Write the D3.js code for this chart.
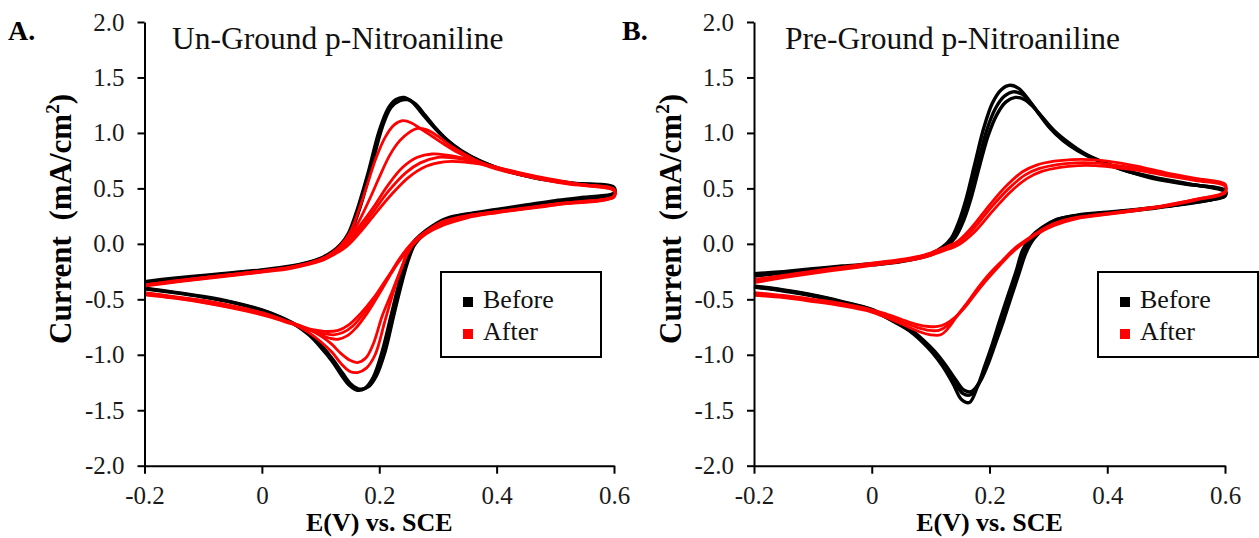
<!DOCTYPE html>
<html>
<head>
<meta charset="utf-8">
<script src="https://cdn.jsdelivr.net/npm/d3@7"></script>
<style>
  html, body { margin: 0; padding: 0; background: #fff; }
  svg { display: block; }
  text { font-family: "Liberation Serif", "Times New Roman", serif; }
</style>
</head>
<body>
<svg id="chart" width="1259" height="538"></svg>
<script>
// ---------------- DATA ----------------
const panelLetters = ["A.", "B."];
const panelTitles = ["Un-Ground p-Nitroaniline", "Pre-Ground p-Nitroaniline"];
const xTickValues = [-0.2, 0, 0.2, 0.4, 0.6];
const xTickLabels = ["-0.2", "0", "0.2", "0.4", "0.6"];
const yTickValues = [-2, -1.5, -1, -0.5, 0, 0.5, 1, 1.5, 2];
const yTickLabels = ["-2.0", "-1.5", "-1.0", "-0.5", "0.0", "0.5", "1.0", "1.5", "2.0"];
const xTitle = "E(V) vs. SCE";
const yTitle = "Current  (mA/cm";
const legendLabels = ["Before", "After"];

// Panel A (Un-Ground) – Before cycles, [E (V), I (mA/cm2)]
const aBefore1 = [[-0.2,-0.34],[-0.15,-0.31],[-0.1,-0.285],[-0.05,-0.26],[0,-0.235],[0.05,-0.2],[0.08,-0.165],[0.1,-0.13],[0.12,-0.07],[0.135,0.0],[0.148,0.1],[0.162,0.3],[0.18,0.62],[0.2,1.02],[0.215,1.22],[0.228,1.3],[0.242,1.32],[0.256,1.28],[0.272,1.18],[0.29,1.07],[0.31,0.96],[0.335,0.85],[0.37,0.75],[0.41,0.67],[0.46,0.6],[0.52,0.55],[0.6,0.51],
  [0.6,0.46],[0.55,0.42],[0.5,0.39],[0.45,0.35],[0.4,0.31],[0.35,0.27],[0.315,0.23],[0.29,0.16],[0.27,0.08],[0.256,0.0],[0.244,-0.16],[0.232,-0.39],[0.22,-0.65],[0.205,-0.97],[0.19,-1.2],[0.176,-1.3],[0.163,-1.32],[0.15,-1.28],[0.135,-1.18],[0.12,-1.06],[0.1,-0.93],[0.08,-0.82],[0.06,-0.74],[0.03,-0.66],[0,-0.6],[-0.05,-0.53],[-0.1,-0.48],[-0.15,-0.44],[-0.2,-0.405]];
const aBefore2 = [[-0.2,-0.35],[-0.1,-0.29],[0,-0.24],[0.05,-0.205],[0.1,-0.135],[0.125,-0.06],[0.14,0.02],[0.155,0.15],[0.168,0.34],[0.185,0.66],[0.205,1.05],[0.22,1.23],[0.235,1.29],[0.248,1.3],[0.262,1.26],[0.278,1.16],[0.295,1.05],[0.315,0.94],[0.34,0.84],[0.375,0.74],[0.415,0.66],[0.465,0.6],[0.525,0.55],[0.6,0.5],
  [0.6,0.45],[0.5,0.38],[0.4,0.3],[0.35,0.265],[0.318,0.225],[0.295,0.16],[0.275,0.08],[0.26,-0.01],[0.248,-0.17],[0.236,-0.4],[0.224,-0.66],[0.21,-0.97],[0.195,-1.19],[0.181,-1.29],[0.167,-1.31],[0.153,-1.27],[0.138,-1.17],[0.122,-1.05],[0.102,-0.92],[0.08,-0.81],[0.06,-0.735],[0.03,-0.655],[0,-0.595],[-0.05,-0.525],[-0.1,-0.475],[-0.15,-0.435],[-0.2,-0.4]];

// Panel A – After cycles
const aAfter1 = [[-0.2,-0.37],[-0.15,-0.335],[-0.1,-0.305],[-0.05,-0.275],[0,-0.245],[0.05,-0.21],[0.08,-0.175],[0.1,-0.14],[0.12,-0.08],[0.135,-0.01],[0.15,0.1],[0.165,0.3],[0.18,0.54],[0.195,0.78],[0.21,0.96],[0.225,1.07],[0.24,1.11],[0.255,1.09],[0.27,1.04],[0.29,0.97],[0.31,0.9],[0.335,0.82],[0.37,0.73],[0.41,0.66],[0.46,0.6],[0.52,0.54],[0.6,0.48],
  [0.6,0.42],[0.55,0.385],[0.5,0.355],[0.45,0.32],[0.4,0.29],[0.35,0.255],[0.31,0.205],[0.285,0.13],[0.265,0.05],[0.25,-0.05],[0.238,-0.22],[0.226,-0.4],[0.21,-0.69],[0.193,-1.0],[0.178,-1.12],[0.163,-1.16],[0.15,-1.15],[0.135,-1.08],[0.12,-0.98],[0.1,-0.88],[0.08,-0.8],[0.06,-0.74],[0.03,-0.675],[0,-0.62],[-0.05,-0.56],[-0.1,-0.51],[-0.15,-0.475],[-0.2,-0.44]];
const aAfter2 = [[-0.2,-0.37],[-0.1,-0.305],[0,-0.245],[0.05,-0.21],[0.1,-0.14],[0.125,-0.07],[0.145,0.03],[0.165,0.2],[0.185,0.42],[0.2,0.6],[0.218,0.8],[0.235,0.93],[0.25,1.0],[0.265,1.04],[0.28,1.03],[0.3,0.97],[0.32,0.89],[0.345,0.81],[0.375,0.73],[0.415,0.66],[0.465,0.595],[0.53,0.54],[0.6,0.49],
  [0.6,0.43],[0.5,0.36],[0.4,0.29],[0.35,0.25],[0.31,0.2],[0.285,0.13],[0.265,0.04],[0.25,-0.07],[0.236,-0.24],[0.222,-0.43],[0.205,-0.65],[0.19,-0.9],[0.177,-1.03],[0.163,-1.07],[0.15,-1.05],[0.135,-0.99],[0.118,-0.9],[0.1,-0.83],[0.08,-0.77],[0.05,-0.71],[0.02,-0.655],[0,-0.625],[-0.05,-0.565],[-0.1,-0.515],[-0.15,-0.48],[-0.2,-0.445]];
const aAfter3 = [[-0.2,-0.375],[-0.1,-0.31],[0,-0.25],[0.05,-0.21],[0.1,-0.145],[0.125,-0.07],[0.145,0.02],[0.165,0.15],[0.19,0.33],[0.215,0.53],[0.24,0.69],[0.265,0.78],[0.29,0.81],[0.315,0.8],[0.345,0.77],[0.38,0.72],[0.42,0.66],[0.47,0.6],[0.53,0.54],[0.6,0.49],
  [0.6,0.43],[0.5,0.355],[0.4,0.285],[0.35,0.245],[0.31,0.19],[0.28,0.11],[0.258,0.02],[0.24,-0.1],[0.22,-0.27],[0.2,-0.45],[0.18,-0.62],[0.16,-0.76],[0.145,-0.83],[0.13,-0.86],[0.115,-0.85],[0.1,-0.82],[0.08,-0.775],[0.05,-0.715],[0.02,-0.66],[0,-0.63],[-0.05,-0.57],[-0.1,-0.52],[-0.15,-0.48],[-0.2,-0.45]];
const aAfter4 = [[-0.2,-0.375],[-0.1,-0.31],[0,-0.25],[0.05,-0.215],[0.1,-0.15],[0.125,-0.08],[0.145,0.0],[0.165,0.12],[0.19,0.29],[0.215,0.47],[0.245,0.64],[0.27,0.73],[0.3,0.78],[0.325,0.775],[0.355,0.75],[0.39,0.7],[0.43,0.65],[0.48,0.59],[0.54,0.535],[0.6,0.485],
  [0.6,0.43],[0.5,0.355],[0.4,0.285],[0.35,0.24],[0.31,0.18],[0.28,0.1],[0.255,0.0],[0.235,-0.13],[0.215,-0.3],[0.195,-0.47],[0.175,-0.62],[0.155,-0.74],[0.138,-0.8],[0.122,-0.82],[0.105,-0.81],[0.085,-0.78],[0.06,-0.73],[0.03,-0.675],[0,-0.63],[-0.05,-0.575],[-0.1,-0.525],[-0.15,-0.485],[-0.2,-0.455]];
const aAfter5 = [[-0.2,-0.38],[-0.1,-0.315],[0,-0.255],[0.05,-0.22],[0.1,-0.155],[0.125,-0.09],[0.145,-0.02],[0.165,0.09],[0.19,0.25],[0.22,0.44],[0.25,0.6],[0.28,0.7],[0.31,0.74],[0.34,0.74],[0.37,0.72],[0.4,0.69],[0.44,0.64],[0.49,0.585],[0.55,0.53],[0.6,0.485],
  [0.6,0.425],[0.5,0.35],[0.4,0.28],[0.35,0.235],[0.31,0.17],[0.28,0.09],[0.255,-0.02],[0.235,-0.15],[0.212,-0.32],[0.19,-0.49],[0.168,-0.63],[0.148,-0.73],[0.13,-0.78],[0.112,-0.79],[0.095,-0.78],[0.075,-0.76],[0.05,-0.72],[0.02,-0.67],[0,-0.64],[-0.05,-0.58],[-0.1,-0.53],[-0.15,-0.49],[-0.2,-0.46]];

// Panel B (Pre-Ground) – Before cycles
const bBefore1 = [[-0.2,-0.27],[-0.15,-0.25],[-0.1,-0.225],[-0.05,-0.2],[0,-0.18],[0.05,-0.15],[0.08,-0.12],[0.1,-0.09],[0.12,-0.03],[0.135,0.05],[0.148,0.2],[0.16,0.4],[0.175,0.72],[0.19,1.04],[0.205,1.27],[0.22,1.39],[0.235,1.43],[0.25,1.4],[0.265,1.31],[0.28,1.2],[0.3,1.06],[0.325,0.93],[0.35,0.84],[0.38,0.76],[0.42,0.68],[0.47,0.6],[0.53,0.54],[0.6,0.48],
  [0.6,0.43],[0.55,0.38],[0.5,0.34],[0.45,0.31],[0.4,0.285],[0.35,0.26],[0.315,0.22],[0.29,0.15],[0.27,0.06],[0.256,-0.06],[0.245,-0.25],[0.233,-0.44],[0.218,-0.68],[0.205,-0.9],[0.192,-1.1],[0.18,-1.28],[0.166,-1.43],[0.152,-1.4],[0.138,-1.26],[0.12,-1.1],[0.103,-0.98],[0.085,-0.88],[0.063,-0.78],[0.03,-0.68],[0,-0.6],[-0.05,-0.53],[-0.1,-0.47],[-0.15,-0.425],[-0.2,-0.39]];
const bBefore2 = [[-0.2,-0.28],[-0.1,-0.23],[0,-0.185],[0.05,-0.155],[0.1,-0.095],[0.123,-0.03],[0.14,0.06],[0.153,0.21],[0.165,0.41],[0.18,0.72],[0.195,1.02],[0.21,1.22],[0.225,1.33],[0.24,1.37],[0.255,1.35],[0.27,1.27],[0.285,1.17],[0.305,1.04],[0.33,0.92],[0.355,0.83],[0.385,0.75],[0.425,0.67],[0.475,0.6],[0.535,0.54],[0.6,0.48],
  [0.6,0.44],[0.5,0.34],[0.4,0.28],[0.35,0.255],[0.315,0.22],[0.293,0.15],[0.273,0.05],[0.259,-0.07],[0.248,-0.26],[0.236,-0.45],[0.222,-0.69],[0.208,-0.9],[0.195,-1.1],[0.182,-1.26],[0.168,-1.36],[0.155,-1.35],[0.14,-1.24],[0.123,-1.1],[0.105,-0.98],[0.085,-0.87],[0.063,-0.775],[0.03,-0.675],[0,-0.595],[-0.05,-0.525],[-0.1,-0.465],[-0.15,-0.42],[-0.2,-0.385]];
const bBefore3 = [[-0.2,-0.29],[-0.1,-0.235],[0,-0.19],[0.05,-0.16],[0.1,-0.1],[0.125,-0.03],[0.142,0.06],[0.156,0.21],[0.168,0.4],[0.183,0.7],[0.198,0.98],[0.213,1.17],[0.228,1.28],[0.244,1.32],[0.26,1.3],[0.275,1.23],[0.29,1.14],[0.31,1.02],[0.335,0.91],[0.36,0.82],[0.39,0.745],[0.43,0.665],[0.48,0.6],[0.54,0.54],[0.6,0.47],
  [0.6,0.44],[0.5,0.335],[0.4,0.275],[0.35,0.25],[0.318,0.215],[0.296,0.15],[0.276,0.05],[0.262,-0.08],[0.25,-0.27],[0.238,-0.46],[0.224,-0.69],[0.21,-0.9],[0.197,-1.09],[0.184,-1.24],[0.17,-1.33],[0.157,-1.32],[0.142,-1.22],[0.125,-1.09],[0.107,-0.97],[0.087,-0.865],[0.065,-0.77],[0.03,-0.67],[0,-0.59],[-0.05,-0.52],[-0.1,-0.46],[-0.15,-0.415],[-0.2,-0.38]];

// Panel B – After cycles
const bAfter1 = [[-0.2,-0.32],[-0.15,-0.285],[-0.1,-0.245],[-0.05,-0.21],[0,-0.175],[0.05,-0.14],[0.09,-0.1],[0.12,-0.04],[0.145,0.02],[0.17,0.15],[0.2,0.35],[0.23,0.53],[0.256,0.65],[0.28,0.71],[0.31,0.745],[0.34,0.76],[0.37,0.76],[0.4,0.745],[0.45,0.7],[0.5,0.64],[0.55,0.59],[0.6,0.54],
  [0.6,0.47],[0.55,0.4],[0.5,0.35],[0.45,0.31],[0.4,0.275],[0.35,0.24],[0.31,0.185],[0.285,0.115],[0.265,0.045],[0.245,-0.03],[0.222,-0.15],[0.2,-0.27],[0.18,-0.4],[0.165,-0.51],[0.145,-0.65],[0.13,-0.76],[0.117,-0.82],[0.1,-0.82],[0.08,-0.79],[0.05,-0.72],[0.02,-0.655],[0,-0.615],[-0.05,-0.56],[-0.1,-0.52],[-0.15,-0.485],[-0.2,-0.465]];
const bAfter2 = [[-0.2,-0.335],[-0.15,-0.295],[-0.1,-0.255],[-0.05,-0.22],[0,-0.185],[0.05,-0.15],[0.09,-0.11],[0.12,-0.055],[0.145,0.005],[0.172,0.13],[0.203,0.33],[0.233,0.5],[0.26,0.62],[0.285,0.68],[0.315,0.715],[0.345,0.73],[0.375,0.73],[0.405,0.715],[0.45,0.68],[0.5,0.625],[0.55,0.58],[0.6,0.53],
  [0.6,0.465],[0.55,0.4],[0.5,0.345],[0.45,0.305],[0.4,0.27],[0.35,0.235],[0.31,0.175],[0.283,0.1],[0.262,0.03],[0.242,-0.05],[0.22,-0.17],[0.198,-0.3],[0.178,-0.43],[0.162,-0.54],[0.143,-0.66],[0.128,-0.74],[0.114,-0.78],[0.098,-0.78],[0.078,-0.755],[0.05,-0.7],[0.02,-0.64],[0,-0.605],[-0.05,-0.55],[-0.1,-0.51],[-0.15,-0.475],[-0.2,-0.45]];
const bAfter3 = [[-0.2,-0.35],[-0.15,-0.305],[-0.1,-0.265],[-0.05,-0.23],[0,-0.195],[0.05,-0.16],[0.09,-0.12],[0.12,-0.065],[0.147,-0.01],[0.175,0.11],[0.206,0.3],[0.236,0.47],[0.264,0.59],[0.29,0.655],[0.32,0.69],[0.35,0.705],[0.38,0.705],[0.41,0.69],[0.455,0.66],[0.5,0.615],[0.55,0.57],[0.6,0.52],
  [0.6,0.46],[0.55,0.395],[0.5,0.34],[0.45,0.3],[0.4,0.265],[0.35,0.23],[0.31,0.165],[0.281,0.09],[0.26,0.015],[0.24,-0.07],[0.218,-0.19],[0.196,-0.32],[0.176,-0.45],[0.16,-0.56],[0.142,-0.66],[0.126,-0.72],[0.112,-0.745],[0.096,-0.745],[0.076,-0.725],[0.05,-0.68],[0.02,-0.625],[0,-0.595],[-0.05,-0.54],[-0.1,-0.5],[-0.15,-0.465],[-0.2,-0.44]];

// ---------------- LAYOUT ----------------
const panels = [
  { letter: panelLetters[0], title: panelTitles[0], before: [aBefore1, aBefore2], after: [aAfter1, aAfter2, aAfter3, aAfter4, aAfter5],
    x0: 144.5, x1: 614, letterX: 8, titleX: 172, legendX: 441, yTitleX: 71 },
  { letter: panelLetters[1], title: panelTitles[1], before: [bBefore1, bBefore2, bBefore3], after: [bAfter1, bAfter2, bAfter3],
    x0: 754, x1: 1225, letterX: 622, titleX: 785, legendX: 1098, yTitleX: 681 }
];
const yTop = 22, yBottom = 465.7;
const colors = { before: "#000000", after: "#ff0000" };

const svg = d3.select("#chart");

panels.forEach(p => {
  const x = d3.scaleLinear().domain([-0.2, 0.6]).range([p.x0, p.x1]);
  const y = d3.scaleLinear().domain([-2, 2]).range([yBottom, yTop]);
  const g = svg.append("g");

  // curves
  const line = d3.line().x(d => x(d[0])).y(d => y(d[1])).curve(d3.curveCatmullRom.alpha(0.5));
  p.before.forEach(loop => {
    g.append("path").attr("d", line(loop)).attr("fill", "none")
      .attr("stroke", colors.before).attr("stroke-width", 3.4).attr("stroke-linejoin", "round");
  });
  p.after.forEach(loop => {
    g.append("path").attr("d", line(loop)).attr("fill", "none")
      .attr("stroke", colors.after).attr("stroke-width", 2.8).attr("stroke-linejoin", "round");
  });

  // axes
  const yAxis = d3.axisLeft(y).tickValues(yTickValues)
    .tickFormat((d, i) => yTickLabels[i]).tickSize(7).tickSizeOuter(0).tickPadding(13);
  const xAxis = d3.axisBottom(x).tickValues(xTickValues)
    .tickFormat((d, i) => xTickLabels[i]).tickSize(8).tickSizeOuter(0).tickPadding(13);

  const gy = g.append("g").attr("transform", `translate(${p.x0},0)`).call(yAxis);
  const gx = g.append("g").attr("transform", `translate(0,${yBottom})`).call(xAxis);
  [gx, gy].forEach(a => {
    a.select(".domain").attr("stroke", "#000").attr("stroke-width", 2);
    a.selectAll(".tick line").attr("stroke", "#000").attr("stroke-width", 2);
    a.selectAll(".tick text").attr("font-family", "Liberation Serif, Times New Roman, serif")
      .attr("font-size", 25).attr("fill", "#1a1a1a");
  });

  // panel letter
  svg.append("text").attr("x", p.letterX).attr("y", 40).attr("font-size", 28)
    .attr("font-weight", "bold").text(p.letter);
  // title
  svg.append("text").attr("x", p.titleX).attr("y", 49).attr("font-size", 31.5)
    .attr("fill", "#111").text(p.title);

  // x title
  svg.append("text").attr("x", (p.x0 + p.x1) / 2).attr("y", 531).attr("text-anchor", "middle")
    .attr("font-size", 26).attr("font-weight", "bold").text(xTitle);

  // y title
  const yt = svg.append("text").attr("transform", `translate(${p.yTitleX},219) rotate(-90)`)
    .attr("text-anchor", "middle").attr("font-size", 31).attr("font-weight", "bold")
    .style("white-space", "pre");
  yt.append("tspan").text(yTitle);
  yt.append("tspan").attr("font-size", 19).attr("dy", -12).text("2");
  yt.append("tspan").attr("dy", 12).text(")");

  // legend
  const lg = svg.append("g").attr("transform", `translate(${p.legendX},272)`);
  lg.append("rect").attr("x", 0).attr("y", 0).attr("width", 160).attr("height", 85)
    .attr("fill", "#fff").attr("stroke", "#000").attr("stroke-width", 2);
  [["before", 0], ["after", 1]].forEach(([k, i]) => {
    lg.append("rect").attr("x", 22).attr("y", 25 + i * 32).attr("width", 10).attr("height", 10)
      .attr("fill", colors[k]);
    lg.append("text").attr("x", 42).attr("y", 36 + i * 32).attr("font-size", 26)
      .attr("fill", "#111").text(legendLabels[i]);
  });
});
</script>
</body>
</html>
